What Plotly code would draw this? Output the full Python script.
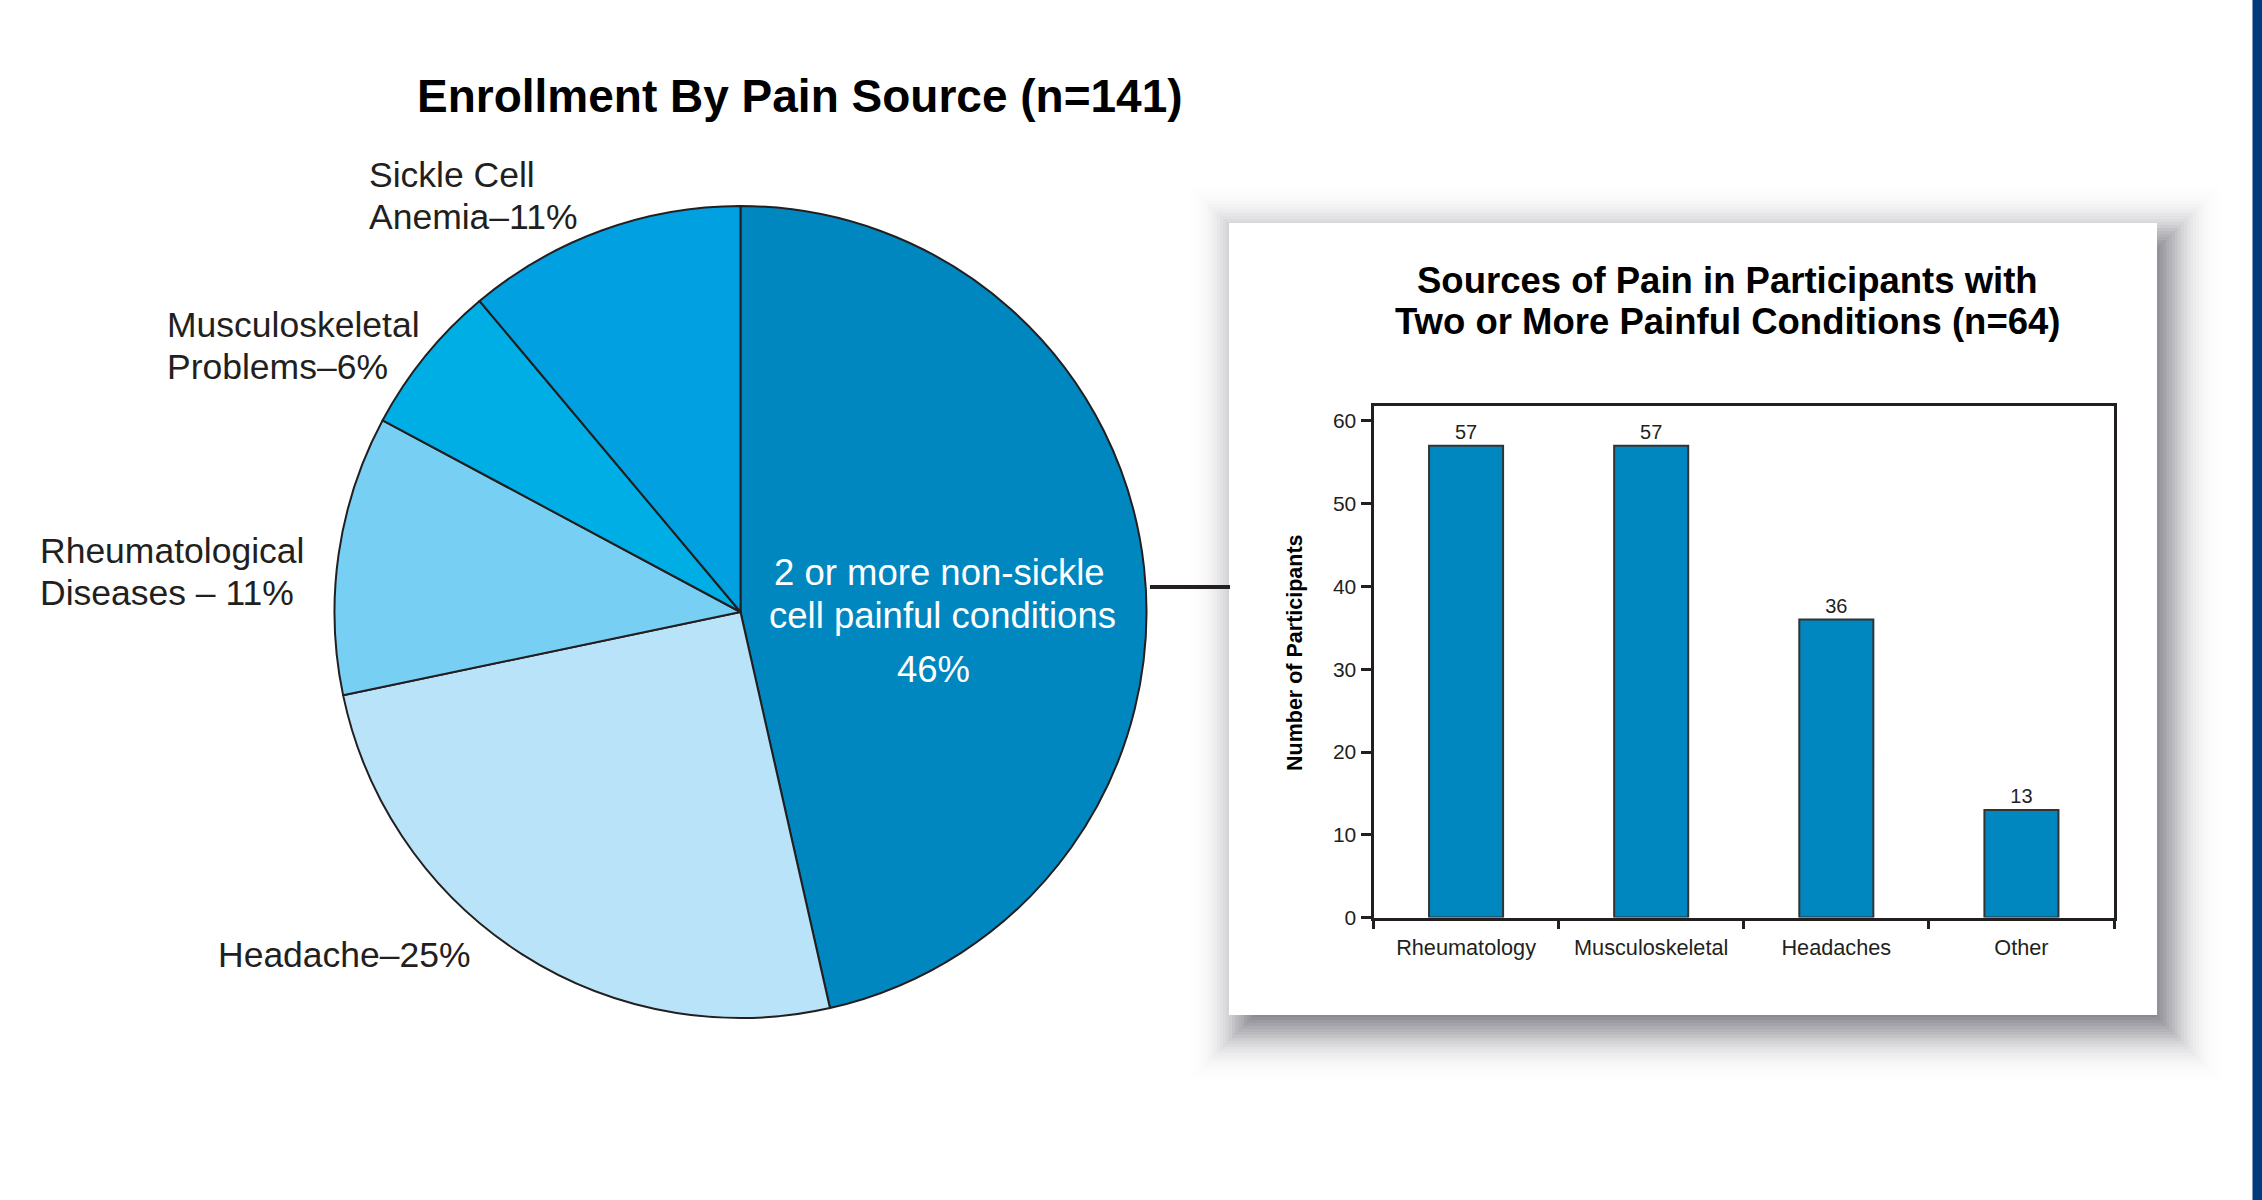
import math
import plotly.graph_objects as go

W, H = 2262, 1200

# ---------------- data ----------------
pie_labels = ["2 or more non-sickle cell painful conditions", "Headache",
              "Rheumatological Diseases", "Musculoskeletal Problems", "Sickle Cell Anemia"]
pie_values = [46, 25, 11, 6, 11]
pie_colors = ["#0087C0", "#B8E3F8", "#77CFF3", "#00AEE6", "#00A0E1"]

bar_categories = ["Rheumatology", "Musculoskeletal", "Headaches", "Other"]
bar_values = [57, 57, 36, 13]
y_ticks = [0, 10, 20, 30, 40, 50, 60]

pie_title = "Enrollment By Pain Source (n=141)"
bar_title_lines = ["Sources of Pain in Participants with", "Two or More Painful Conditions (n=64)"]
y_title = "Number of Participants"

# outside pie label lines: (text, left x px, centre y px)
pie_label_lines = [
    ("Sickle Cell", 367, 175), ("Anemia\u201311%", 367, 217),
    ("Musculoskeletal", 165, 325), ("Problems\u20136%", 165, 367),
    ("Rheumatological", 38, 551), ("Diseases \u2013 11%", 38, 593),
    ("Headache\u201325%", 216, 955),
]
inside_lines = [("2 or more non-sickle", 939, 572), ("cell painful conditions", 942, 615), ("46%", 933, 669)]

FONT = "Liberation Sans, Arial, Helvetica, sans-serif"
INK = "#231F20"


def X(px):
    return px / W


def Y(py):
    return 1 - py / H


fig = go.Figure()

# pie: centre (740.5, 612), radius 406
cx, cy, r = 740.5, 612, 406
fig.add_trace(go.Pie(
    labels=pie_labels, values=pie_values, sort=False, direction="clockwise", rotation=0,
    marker=dict(colors=pie_colors, line=dict(color=INK, width=2)),
    textinfo="none", hoverinfo="label+percent", showlegend=False,
    domain=dict(x=[X(cx - r), X(cx + r)], y=[Y(cy + r), Y(cy - r)]),
))

# bar chart
fig.add_trace(go.Bar(
    x=bar_categories, y=bar_values, width=0.4,
    marker=dict(color="#0087C0", line=dict(color="#333333", width=2)),
    text=[str(v) for v in bar_values], textposition="outside", textangle=0,
    textfont=dict(family=FONT, size=20, color=INK), cliponaxis=False,
    showlegend=False, xaxis="x", yaxis="y",
))

px_l, px_r, py_t, py_b = 1373.5, 2114, 406, 917.6
fig.update_layout(
    width=W, height=H, autosize=False,
    margin=dict(l=0, r=0, t=0, b=0, pad=0, autoexpand=False),
    paper_bgcolor="white", plot_bgcolor="white",
    font=dict(family=FONT, color=INK),
    xaxis=dict(domain=[X(px_l), X(px_r)], anchor="y", showline=True, mirror=True,
               linecolor=INK, linewidth=3, ticks="outside", tickson="boundaries",
               ticklen=8, tickwidth=3, tickcolor=INK, showgrid=False, zeroline=False,
               automargin=False,
               tickfont=dict(family=FONT, size=21.7, color=INK), ticklabelstandoff=8),
    yaxis=dict(domain=[Y(py_b), Y(py_t)], anchor="x", range=[0, 61.8], showline=True,
               mirror=True, linecolor=INK, linewidth=3, ticks="outside", ticklen=10,
               tickwidth=3, tickcolor=INK, tickvals=y_ticks, showgrid=False, zeroline=False,
               automargin=False,
               tickfont=dict(family=FONT, size=21, color=INK)),
)

# ---------------- shapes: shadow, box, connector, side strip ----------------
shapes = []
bx0, by0, bx1, by1 = 1229, 223, 2157, 1015
sdx, sdy, sig, maxd = 12, 14, 22.0, 0.62
step = 3
exps = list(range(-66, 73, step))


def phi(z):
    return 0.5 * (1 + math.erf(z / math.sqrt(2)))


T = [1 - maxd * phi(-(e - step / 2) / sig) for e in exps] + [1.0]
for k, e in enumerate(exps):
    a = 1 - T[k] / T[k + 1]
    if a <= 0.0005:
        continue
    shapes.append(dict(type="rect", xref="paper", yref="paper", layer="below",
                       x0=X(bx0 + sdx - e), x1=X(bx1 + sdx + e),
                       y0=Y(by1 + sdy + e), y1=Y(by0 + sdy - e),
                       line=dict(width=0), fillcolor=f"rgba(25,25,40,{a:.4f})"))
shapes.append(dict(type="rect", xref="paper", yref="paper", layer="below",
                   x0=X(bx0), x1=X(bx1), y0=Y(by1), y1=Y(by0),
                   line=dict(width=0), fillcolor="white"))
# connector line from pie to panel
shapes.append(dict(type="line", xref="paper", yref="paper", layer="above",
                   x0=X(1150), x1=X(1230), y0=Y(587), y1=Y(587),
                   line=dict(color=INK, width=4)))
# navy strip at right edge
shapes.append(dict(type="rect", xref="paper", yref="paper", layer="above",
                   x0=X(2252), x1=1, y0=0, y1=1, line=dict(width=0), fillcolor="#003C7D"))
shapes.append(dict(type="line", xref="paper", yref="paper", layer="above",
                   x0=X(2252.5), x1=X(2252.5), y0=0, y1=1,
                   line=dict(color="#7F97B8", width=1)))
fig.update_layout(shapes=shapes)

# ---------------- annotations ----------------
ann = []
ann.append(dict(text=f"<b>{pie_title}</b>", x=X(800), y=Y(96), xref="paper", yref="paper",
                xanchor="center", yanchor="middle", showarrow=False,
                font=dict(family=FONT, size=46, color="black")))
for t, lx, ly in pie_label_lines:
    ann.append(dict(text=t, x=X(lx), y=Y(ly), xref="paper", yref="paper",
                    xanchor="left", yanchor="middle", showarrow=False,
                    font=dict(family=FONT, size=35.5, color=INK)))
for t, lx, ly in inside_lines:
    ann.append(dict(text=t, x=X(lx), y=Y(ly), xref="paper", yref="paper",
                    xanchor="center", yanchor="middle", showarrow=False,
                    font=dict(family=FONT, size=36.5, color="white")))
for t, ly in zip(bar_title_lines, [281, 321]):
    ann.append(dict(text=f"<b>{t}</b>", x=X(1728), y=Y(ly), xref="paper", yref="paper",
                    xanchor="center", yanchor="middle", showarrow=False,
                    font=dict(family=FONT, size=36.5, color="black")))
ann.append(dict(text=f"<b>{y_title}</b>", x=X(1295), y=Y(653), xref="paper", yref="paper",
                xanchor="center", yanchor="middle", textangle=-90, showarrow=False,
                font=dict(family=FONT, size=21.5, color="black")))
fig.update_layout(annotations=ann)

fig.write_html(
    "out.html",
    config={"displayModeBar": False, "responsive": False},
    post_script=("document.documentElement.style.margin='0';"
                 "document.documentElement.style.overflow='hidden';"
                 "document.body.style.margin='0';document.body.style.padding='0';"
                 "document.body.style.overflow='hidden';"),
)
